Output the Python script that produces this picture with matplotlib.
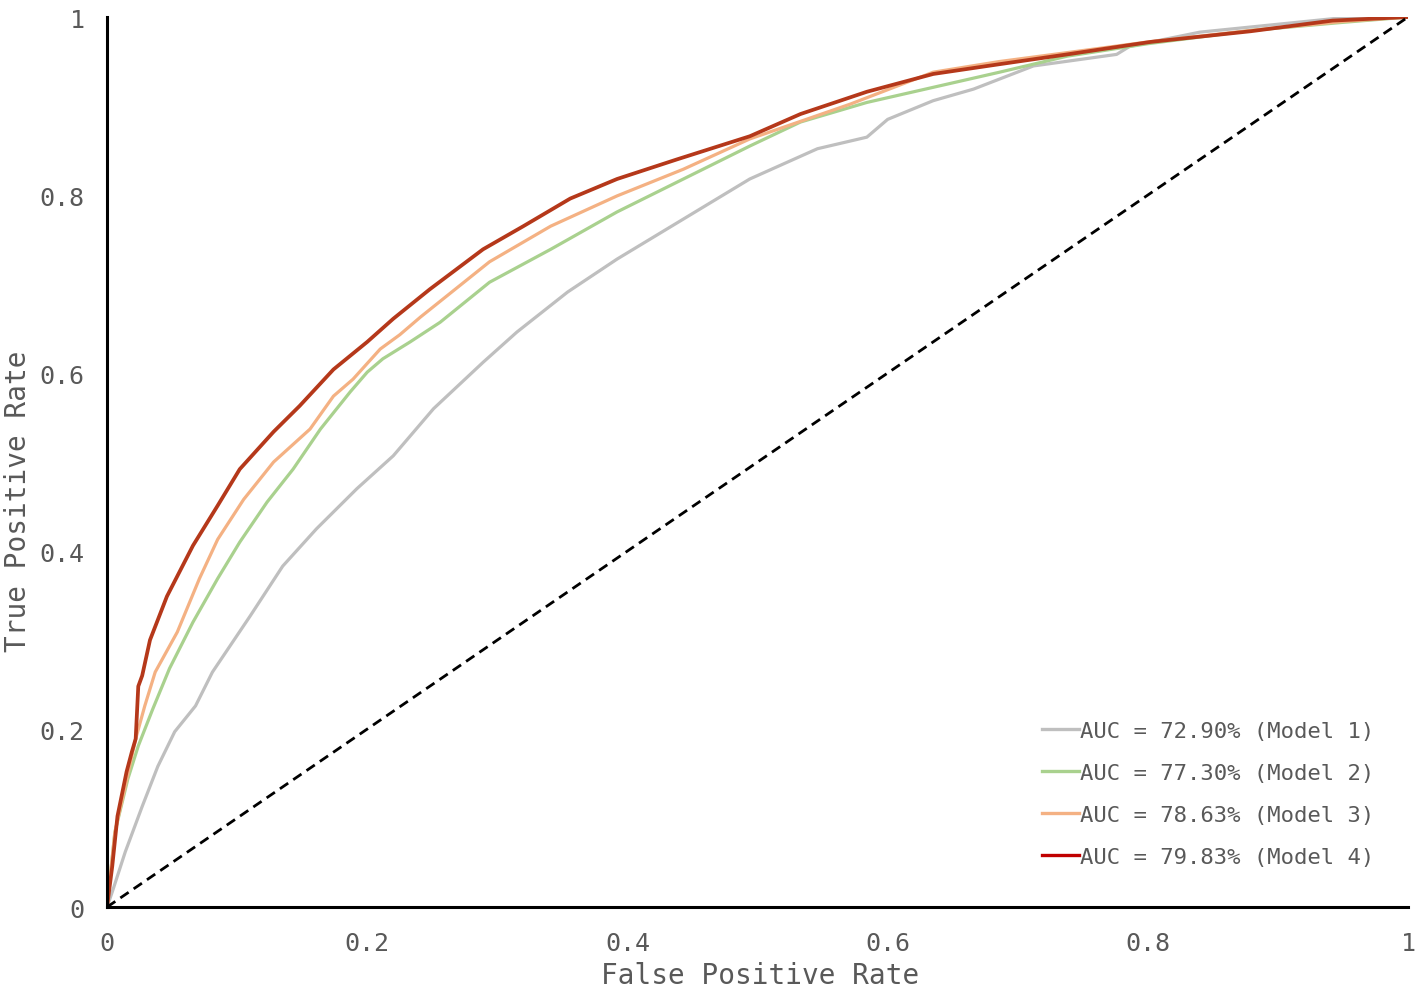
import matplotlib
matplotlib.use("Agg")
import matplotlib.pyplot as plt
from matplotlib.lines import Line2D

# ROC points (fpr, tpr)
fpr_m1 = [0, 0.004, 0.014, 0.027, 0.039, 0.052, 0.068, 0.081, 0.110, 0.135, 0.161, 0.192, 0.220,
          0.251, 0.289, 0.315, 0.354, 0.392, 0.443, 0.494, 0.546, 0.584, 0.600, 0.635, 0.666,
          0.712, 0.776, 0.786, 0.840, 0.955, 1.0]
tpr_m1 = [0, 0.017, 0.062, 0.113, 0.158, 0.197, 0.226, 0.264, 0.327, 0.383, 0.425, 0.470, 0.507,
          0.560, 0.612, 0.646, 0.691, 0.728, 0.773, 0.818, 0.852, 0.865, 0.885, 0.906, 0.919,
          0.945, 0.958, 0.967, 0.983, 1.0, 1.0]

fpr_m2 = [0, 0.006, 0.016, 0.024, 0.035, 0.048, 0.066, 0.085, 0.102, 0.123, 0.143, 0.164, 0.187,
          0.200, 0.212, 0.233, 0.256, 0.294, 0.341, 0.392, 0.443, 0.494, 0.533, 0.584, 0.635,
          0.686, 0.738, 0.800, 0.880, 0.950, 1.0]
tpr_m2 = [0, 0.084, 0.144, 0.181, 0.222, 0.268, 0.320, 0.369, 0.410, 0.455, 0.492, 0.537, 0.579,
          0.601, 0.616, 0.635, 0.657, 0.702, 0.739, 0.781, 0.818, 0.855, 0.882, 0.904, 0.921,
          0.938, 0.956, 0.970, 0.985, 0.994, 1.0]

fpr_m3 = [0, 0.006, 0.014, 0.022, 0.029, 0.037, 0.054, 0.071, 0.085, 0.105, 0.128, 0.156, 0.174,
          0.189, 0.210, 0.225, 0.241, 0.294, 0.341, 0.392, 0.443, 0.494, 0.571, 0.635, 0.686,
          0.738, 0.800, 0.880, 0.950, 1.0]
tpr_m3 = [0, 0.084, 0.136, 0.189, 0.226, 0.264, 0.309, 0.369, 0.413, 0.458, 0.500, 0.537, 0.574,
          0.593, 0.627, 0.643, 0.663, 0.725, 0.765, 0.799, 0.829, 0.863, 0.902, 0.938, 0.950,
          0.960, 0.972, 0.985, 0.995, 1.0]

fpr_m4 = [0, 0.004, 0.008, 0.015, 0.019, 0.022, 0.024, 0.027, 0.033, 0.046, 0.066, 0.085, 0.102,
          0.128, 0.148, 0.174, 0.200, 0.220, 0.248, 0.289, 0.320, 0.356, 0.392, 0.438, 0.494,
          0.533, 0.584, 0.635, 0.686, 0.738, 0.802, 0.879, 0.942, 1.0]
tpr_m4 = [0, 0.046, 0.102, 0.152, 0.174, 0.189, 0.248, 0.260, 0.300, 0.349, 0.406, 0.451, 0.492,
          0.534, 0.563, 0.604, 0.635, 0.661, 0.694, 0.739, 0.765, 0.796, 0.818, 0.840, 0.866,
          0.891, 0.916, 0.936, 0.947, 0.958, 0.972, 0.984, 0.996, 1.0]

labels = ["AUC = 72.90% (Model 1)", "AUC = 77.30% (Model 2)",
          "AUC = 78.63% (Model 3)", "AUC = 79.83% (Model 4)"]
legend_colors = ["#BFBFBF", "#A9D18E", "#F4B183", "#C00000"]
curve_colors = ["#BFBFBF", "#A9D18E", "#F4B183", "#B5381A"]

ticks = [0, 0.2, 0.4, 0.6, 0.8, 1]
tick_labels = ["0", "0.2", "0.4", "0.6", "0.8", "1"]

plt.rcParams["font.family"] = ["DejaVu Sans Mono"]
txt = "#595959"

fig = plt.figure(figsize=(14.18, 9.95), dpi=100)
ax = fig.add_axes([0.0755, 0.0874, 0.9175, 0.8945])

curves = [(fpr_m1, tpr_m1), (fpr_m2, tpr_m2), (fpr_m3, tpr_m3), (fpr_m4, tpr_m4)]
widths = [2.3, 2.3, 2.3, 2.7]
for (x, y), c, lw in zip(curves, curve_colors, widths):
    ax.plot(x, y, color=c, lw=lw, solid_joinstyle="round")

# chance line
ax.plot([0, 1], [0, 1], color="black", lw=2.0, linestyle=(0, (3.6, 2.2)))

ax.set_xlim(0, 1)
ax.set_ylim(0, 1)
ax.set_xticks(ticks)
ax.set_xticklabels(tick_labels)
ax.set_yticks(ticks)
ax.set_yticklabels(tick_labels)
ax.tick_params(length=0, labelsize=18, colors=txt)
ax.tick_params(axis="x", pad=17)
ax.tick_params(axis="y", pad=16)

for s in ["top", "right"]:
    ax.spines[s].set_visible(False)
for s in ["left", "bottom"]:
    ax.spines[s].set_linewidth(2.2)
    ax.spines[s].set_color("black")

ax.set_xlabel("False Positive Rate", fontsize=20, color=txt)
ax.set_ylabel("True Positive Rate", fontsize=20, color=txt)
ax.xaxis.set_label_coords(0.502, -0.061)
ax.yaxis.set_label_coords(-0.058, 0.457)

handles = [Line2D([0], [0], color=c, lw=2.4) for c in legend_colors]
leg = ax.legend(handles, labels, loc="upper left", bbox_to_anchor=(0.719, 0.209),
                frameon=False, fontsize=16, handlelength=1.65, handletextpad=0.05,
                labelspacing=0.99, borderpad=0, borderaxespad=0)
for t in leg.get_texts():
    t.set_color(txt)

fig.savefig("out.png", dpi=100)
